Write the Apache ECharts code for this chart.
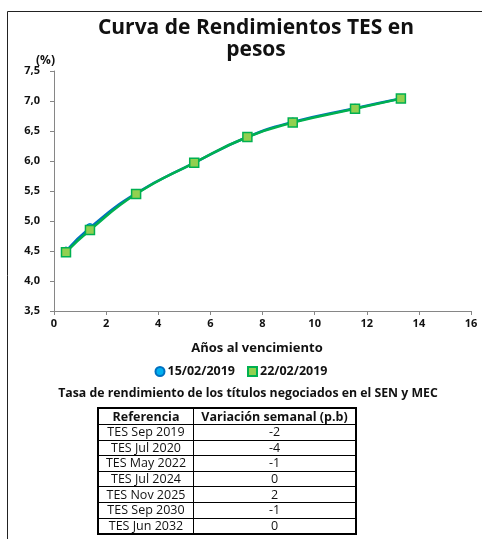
<!DOCTYPE html>
<html>
<head>
<meta charset="utf-8">
<script src="https://cdn.jsdelivr.net/npm/echarts@6/dist/echarts.min.js"></script>
<style>
  html, body { margin: 0; padding: 0; background: #fff; }
  #wrap { position: relative; width: 482px; height: 539px; }
  #chart { position: absolute; left: 0; top: 0; width: 482px; height: 539px; }
  #tabla {
    position: absolute; left: 97px; top: 407px; width: 260px;
    border-collapse: collapse; border: 2px solid #000;
    font-family: "Open Sans", "Noto Sans", sans-serif; font-size: 12.5px; color: #111;
  }
  #tabla td, #tabla th { border: 1px solid #000; padding: 0; height: 14.6px; line-height: 14px; text-align: center; }
  #tabla th { font-weight: bold; height: 15px; font-size: 12.5px; }
  #tabla td.ref { width: 94px; }
</style>
</head>
<body>
<div id="wrap">
  <div id="chart"></div>
  <table id="tabla"></table>
</div>
<script>
// años al vencimiento de cada título
const anios = [0.46, 1.38, 3.15, 5.38, 7.42, 9.16, 11.55, 13.31];
// tasas (%) por fecha
const tasas1502 = [4.50, 4.89, 5.46, 5.97, 6.40, 6.65, 6.88, 7.04];
const tasas2202 = [4.48, 4.85, 5.45, 5.97, 6.40, 6.64, 6.87, 7.04];
const fechas = ['15/02/2019', '22/02/2019'];

// tabla de variación semanal
const referencias = ['TES Sep 2019', 'TES Jul 2020', 'TES May 2022', 'TES Jul 2024', 'TES Nov 2025', 'TES Sep 2030', 'TES Jun 2032'];
const variaciones = [-2, -4, -1, 0, 2, -1, 0];

const fuente = '"Open Sans", "Noto Sans", sans-serif';

// armar la tabla
let html = '<tr><th>Referencia</th><th>Variación semanal (p.b)</th></tr>';
referencias.forEach((r, i) => {
  html += '<tr><td class="ref">' + r + '</td><td>' + variaciones[i] + '</td></tr>';
});
document.getElementById('tabla').innerHTML = html;

const myChart = echarts.init(document.getElementById('chart'));

const toPairs = (xs, ys) => xs.map((x, i) => [x, ys[i]]);

const option = {
  animation: false,
  backgroundColor: '#fff',
  textStyle: { fontFamily: fuente },
  title: [
    {
      text: 'Curva de Rendimientos TES en\npesos',
      left: 251, top: 12, textAlign: 'center',
      textStyle: { fontSize: 21, fontWeight: 'bold', color: '#111', lineHeight: 22, fontFamily: fuente }
    },
    {
      text: '(%)', left: 31, top: 50,
      textStyle: { fontSize: 12, fontWeight: 'bold', color: '#111', fontFamily: fuente }
    },
    {
      text: 'Años al vencimiento', left: 252, top: 337, textAlign: 'center',
      textStyle: { fontSize: 13, fontWeight: 'bold', color: '#111', fontFamily: fuente }
    },
    {
      text: 'Tasa de rendimiento de los títulos negociados en el SEN y MEC', left: 243, top: 382, textAlign: 'center',
      textStyle: { fontSize: 12.3, fontWeight: 'bold', color: '#111', fontFamily: fuente }
    }
  ],
  graphic: [{
    type: 'rect',
    shape: { x: 7.5, y: 11.5, width: 480, height: 540 },
    style: { fill: 'none', stroke: '#222', lineWidth: 1 },
    silent: true
  }],
  legend: {
    data: [
      { name: fechas[0], icon: 'circle' },
      { name: fechas[1], icon: 'rect' }
    ],
    left: 'center', top: 360,
    itemWidth: 9, itemHeight: 9, itemGap: 12,
    textStyle: { fontSize: 12.5, fontWeight: 'bold', color: '#111', padding: [0, 0, 0, -2] }
  },
  grid: { left: 54, right: 11, top: 71, bottom: 228 },
  xAxis: {
    type: 'value', min: 0, max: 16, interval: 2,
    axisLine: { lineStyle: { color: '#868686' } },
    axisTick: { show: true, length: 4, lineStyle: { color: '#868686' } },
    splitLine: { show: false },
    axisLabel: { fontSize: 11, fontWeight: 'bold', color: '#111', margin: 7 }
  },
  yAxis: {
    type: 'value', min: 3.5, max: 7.5, interval: 0.5,
    axisLine: { show: true, lineStyle: { color: '#868686' } },
    axisTick: { show: true, length: 4, lineStyle: { color: '#868686' } },
    splitLine: { show: false },
    axisLabel: {
      fontSize: 11, fontWeight: 'bold', color: '#111', margin: 14,
      formatter: v => v.toFixed(1).replace('.', ',')
    }
  },
  series: [
    {
      name: fechas[0], type: 'line', smooth: true,
      data: toPairs(anios, tasas1502),
      symbol: 'circle', symbolSize: 8,
      lineStyle: { color: '#0070C0', width: 2.5 },
      itemStyle: { color: '#00B0F0', borderColor: '#0070C0', borderWidth: 1 }
    },
    {
      name: fechas[1], type: 'line', smooth: true,
      data: toPairs(anios, tasas2202),
      symbol: 'rect', symbolSize: 9,
      lineStyle: { color: '#00B050', width: 2.5 },
      itemStyle: { color: '#92D050', borderColor: '#00B050', borderWidth: 1.5 }
    }
  ]
};

myChart.setOption(option);
</script>
</body>
</html>
